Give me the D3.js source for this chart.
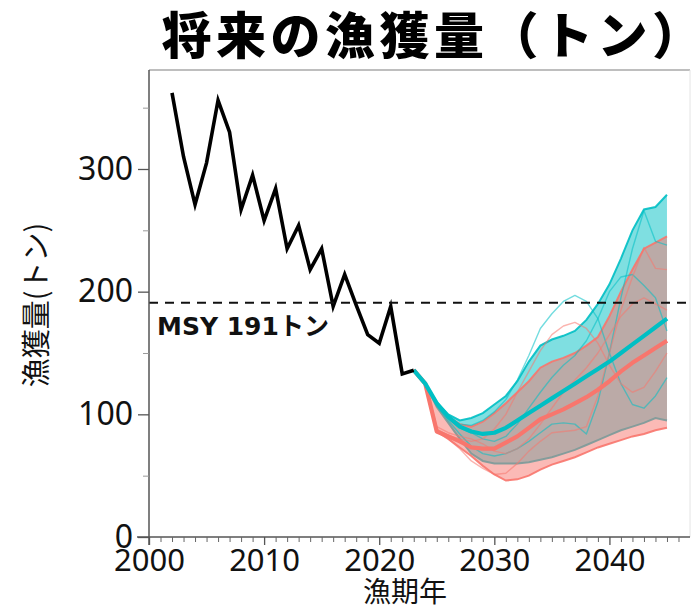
<!DOCTYPE html>
<html>
<head>
<meta charset="utf-8">
<script src="https://cdn.jsdelivr.net/npm/d3@7/dist/d3.min.js"></script>
<style>
  html, body { margin: 0; padding: 0; background: #fff; }
  svg { display: block; }
</style>
</head>
<body>
<svg id="chart" width="691" height="610"></svg>
<script>
// Observed catch (tonnes) by fishing year
const histYears = d3.range(2002, 2024);
const histCatch = [362, 310, 271, 305, 356, 330, 267, 295, 258, 284, 235, 254,
                   218, 235, 188, 214, 189, 165, 158, 188, 133, 136];

// Projection years
const projYears = d3.range(2023, 2046);

// Scenario A (teal): median and interval bounds
const tealMedian = [136, 125, 109, 98, 90, 86, 84, 85, 89, 95, 101, 107, 113, 119, 125, 131, 137, 143, 150, 157, 164, 171, 178];
const tealLow    = [136, 125, 106, 93, 80, 68, 62, 60, 60, 60, 61, 63, 65, 68, 71, 75, 79, 83, 87, 90, 93, 97, 95];
const tealHigh   = [136, 125, 110, 100, 95, 97, 101, 108, 115, 127, 143, 156, 161, 164, 168, 177, 190, 206, 227, 250, 267, 269, 279];
// Scenario A example trajectories
const tealRun1 = [136, 125, 109, 98, 92, 91, 95, 102, 112, 128, 148, 170, 182, 192, 197, 192, 178, 150, 125, 108, 105, 115, 130];
const tealRun2 = [136, 125, 107, 95, 84, 74, 68, 66, 68, 72, 78, 85, 92, 93, 92, 84, 110, 150, 195, 235, 266, 241, 238];
const tealRun3 = [136, 125, 108, 97, 89, 85, 80, 78, 82, 92, 105, 118, 130, 140, 148, 160, 178, 200, 212, 214, 205, 195, 168];

// Scenario B (salmon): median and interval bounds
const salmonMedian = [136, 125, 86, 82, 78, 73, 72, 72, 77, 82, 89, 96, 100, 104, 109, 114, 120, 127, 135, 142, 148, 154, 160];
const salmonLow    = [136, 125, 86, 80, 73, 66, 58, 51, 46, 47, 50, 55, 59, 62, 65, 69, 73, 76, 79, 82, 84, 87, 89];
const salmonHigh   = [136, 125, 108, 98, 92, 90, 94, 101, 109, 118, 127, 138, 143, 146, 150, 156, 163, 180, 200, 218, 235, 240, 245];
// Scenario B example trajectories
const salmonRun1 = [136, 125, 86, 80, 72, 62, 56, 51, 52, 60, 70, 78, 85, 86, 87, 90, 115, 150, 185, 212, 236, 219, 218];
const salmonRun2 = [136, 125, 88, 83, 80, 78, 80, 88, 100, 118, 135, 152, 165, 172, 175, 170, 158, 140, 125, 118, 122, 135, 150];
const salmonRun3 = [136, 125, 90, 85, 82, 80, 76, 70, 68, 72, 80, 92, 105, 118, 128, 138, 150, 165, 180, 190, 195, 190, 185];

const msyValue = 191;
const yTicks = [0, 100, 200, 300];
const yMinorTicks = [50, 150, 250, 350];
const xTicks = [2000, 2010, 2020, 2030, 2040];

const TEAL = "#00BFC4";
const SALMON = "#F8766D";

const svg = d3.select("#chart");
const pLeft = 149, pRight = 690, pTop = 70, pBottom = 537;

const x = d3.scaleLinear().domain([2000, 2047]).range([pLeft, pRight]);
const y = d3.scaleLinear().domain([0, 380.7]).range([pBottom, pTop]);

// Title
svg.append("text")
  .attr("x", 434).attr("y", 54)
  .attr("text-anchor", "middle")
  .attr("font-family", "'Noto Sans CJK JP', sans-serif")
  .attr("font-weight", 900)
  .attr("font-size", 50)
  .attr("letter-spacing", 4.5)
  .text("将来の漁獲量（トン）");

// Panel frame (top and right edges)
svg.append("line").attr("x1", pLeft).attr("x2", pRight).attr("y1", pTop).attr("y2", pTop)
  .attr("stroke", "#a8a8a8").attr("stroke-width", 1.5);
svg.append("line").attr("x1", pRight).attr("x2", pRight).attr("y1", pTop).attr("y2", pBottom)
  .attr("stroke", "#e4e4e4").attr("stroke-width", 1);

const plot = svg.append("g");

const pts = arr => arr.map((v, i) => [projYears[i], v]);
const line = d3.line().x(d => x(d[0])).y(d => y(d[1]));
const band = (lo, hi) => d3.area()
  .x((d, i) => x(projYears[i]))
  .y0((d, i) => y(lo[i]))
  .y1((d, i) => y(hi[i]))(projYears);

function drawBand(lo, hi, color, fillOpacity) {
  plot.append("path").attr("d", band(lo, hi))
    .attr("fill", color).attr("fill-opacity", fillOpacity).attr("stroke", "none");
  [lo, hi].forEach(b => {
    plot.append("path").attr("d", line(pts(b)))
      .attr("fill", "none").attr("stroke", color)
      .attr("stroke-width", 2).attr("stroke-opacity", 0.9);
  });
}

drawBand(tealLow, tealHigh, TEAL, 0.5);
drawBand(salmonLow, salmonHigh, SALMON, 0.5);

// Example trajectories
[[tealRun1, TEAL], [tealRun2, TEAL], [tealRun3, TEAL],
 [salmonRun1, SALMON], [salmonRun2, SALMON], [salmonRun3, SALMON]].forEach(([run, c]) => {
  plot.append("path").attr("d", line(pts(run)))
    .attr("fill", "none").attr("stroke", c)
    .attr("stroke-width", 1.4).attr("stroke-opacity", 0.55)
    .attr("stroke-linejoin", "round");
});

// Medians
plot.append("path").attr("d", line(pts(salmonMedian)))
  .attr("fill", "none").attr("stroke", SALMON).attr("stroke-width", 4.2)
  .attr("stroke-linejoin", "round");
plot.append("path").attr("d", line(pts(tealMedian)))
  .attr("fill", "none").attr("stroke", TEAL).attr("stroke-width", 4.2)
  .attr("stroke-linejoin", "round");

// MSY reference line
svg.append("line")
  .attr("x1", pLeft).attr("x2", pRight)
  .attr("y1", y(msyValue)).attr("y2", y(msyValue))
  .attr("stroke", "#111").attr("stroke-width", 2)
  .attr("stroke-dasharray", "9,7");
svg.append("text")
  .attr("x", 157).attr("y", 335)
  .attr("font-family", "'DejaVu Sans', 'Noto Sans CJK JP', sans-serif")
  .attr("font-weight", 700)
  .attr("font-size", 25)
  .attr("fill", "#111")
  .text("MSY " + msyValue + "トン");

// Observed catch
plot.append("path")
  .attr("d", line(histYears.map((yr, i) => [yr, histCatch[i]])))
  .attr("fill", "none").attr("stroke", "#000").attr("stroke-width", 3.6)
  .attr("stroke-linejoin", "miter").attr("stroke-miterlimit", 6);

// Y axis
const yAxis = svg.append("g").attr("transform", `translate(${pLeft},0)`)
  .call(d3.axisLeft(y).tickValues(yTicks).tickSize(11).tickPadding(5).tickFormat(d3.format("d")));
svg.append("g").attr("transform", `translate(${pLeft},0)`)
  .call(d3.axisLeft(y).tickValues(yMinorTicks).tickSize(6).tickFormat(""))
  .call(g => g.select(".domain").remove())
  .selectAll("line").attr("stroke", "#999");
yAxis.select(".domain").attr("d", `M0,${pTop}V${pBottom + 8}`).attr("stroke", "#555").attr("stroke-width", 1.5);
yAxis.selectAll(".tick line").attr("stroke", "#555").attr("stroke-width", 1.3);
yAxis.selectAll("text")
  .attr("font-family", "'Noto Sans', sans-serif")
  .attr("font-size", 32).attr("fill", "#111");

// X axis
const xAxis = svg.append("g").attr("transform", `translate(0,${pBottom})`)
  .call(d3.axisBottom(x).tickValues(xTicks).tickSize(8).tickPadding(4).tickFormat(d3.format("d")));
svg.append("g").attr("transform", `translate(0,${pBottom})`)
  .call(d3.axisBottom(x).tickValues(d3.range(2001, 2047).filter(v => v % 10 !== 0)).tickSize(5).tickFormat(""))
  .call(g => g.select(".domain").remove())
  .selectAll("line").attr("stroke", "#666");
xAxis.select(".domain").attr("d", `M${pLeft - 12},0H${pRight}`).attr("stroke", "#555").attr("stroke-width", 1.5);
xAxis.selectAll(".tick line").attr("stroke", "#555").attr("stroke-width", 1.3);
xAxis.selectAll("text")
  .attr("font-family", "'Noto Sans', sans-serif")
  .attr("font-size", 31).attr("fill", "#111");

// Axis titles
svg.append("text")
  .attr("x", 405).attr("y", 602)
  .attr("text-anchor", "middle")
  .attr("font-family", "'Noto Sans CJK JP', sans-serif")
  .attr("font-size", 28).attr("fill", "#111")
  .text("漁期年");
svg.append("text")
  .attr("transform", "translate(47,305) rotate(-90)")
  .attr("text-anchor", "middle")
  .attr("font-family", "'Noto Sans CJK JP', sans-serif")
  .attr("font-size", 29).attr("fill", "#111")
  .text("漁獲量(トン)");
</script>
</body>
</html>
